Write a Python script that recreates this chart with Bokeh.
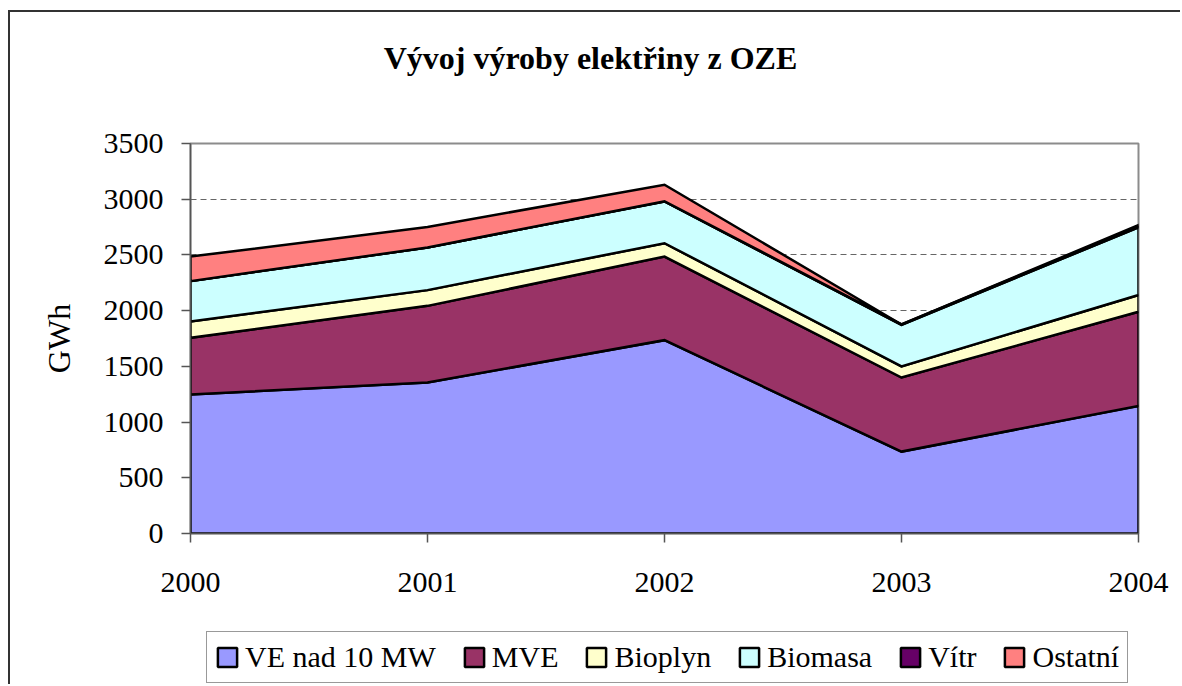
import numpy as np
from bokeh.plotting import figure
from bokeh.layouts import column
from bokeh.models import Range1d, FixedTicker, Legend, LegendItem, ColumnDataSource, Label
from bokeh.embed import file_html
from bokeh.resources import INLINE

# ---- data ----
years = [2000, 2001, 2002, 2003, 2004]
series_names = ["VE nad 10 MW", "MVE", "Bioplyn", "Biomasa", "Vítr", "Ostatní"]
ve_nad_10mw = [1248, 1355, 1735, 735, 1145]
mve = [508, 688, 750, 665, 845]
bioplyn = [147, 141, 120, 100, 150]
biomasa = [362, 383, 375, 372, 608]
vitr = [0, 0, 2, 4, 10]
ostatni = [220, 184, 148, 0, 10]
colors = ["#9999FF", "#993366", "#FFFFCC", "#CCFFFF", "#660066", "#FF8080"]
y_ticks = [0, 500, 1000, 1500, 2000, 2500, 3000, 3500]
title_text = "Vývoj výroby elektřiny z OZE"
y_label = "GWh"

series = [ve_nad_10mw, mve, bioplyn, biomasa, vitr, ostatni]

FONT = "Liberation Serif"
BORDER = "#333333"
W = 1180
LEFT, RIGHT = 190, 42

# stacked layers as polygons
x = np.array(years, dtype=float)
bottom = np.zeros(len(years))
xs, ys = [], []
for s in series:
    top = bottom + np.array(s, dtype=float)
    xs.append(list(x) + list(x[::-1]))
    ys.append(list(top) + list(bottom[::-1]))
    bottom = top
src = ColumnDataSource(dict(xs=xs, ys=ys, color=colors, name=series_names))

left_line = {
    "background-image": f"linear-gradient({BORDER},{BORDER})",
    "background-size": "2px 100%",
    "background-position": "8px 0px",
    "background-repeat": "no-repeat",
}

# ---------- title strip ----------
TH = 100
t = figure(width=W, height=TH, output_backend="svg", toolbar_location=None,
           x_range=Range1d(0, W - LEFT - RIGHT), y_range=Range1d(0, TH),
           x_axis_type=None, y_axis_type=None,
           min_border_left=LEFT, min_border_right=RIGHT, min_border_top=0, min_border_bottom=0)
t.styles = {
    "background-image": f"linear-gradient({BORDER},{BORDER}), linear-gradient({BORDER},{BORDER})",
    "background-size": "2px 100%, 100% 2px",
    "background-position": "8px 10px, 8px 10px",
    "background-repeat": "no-repeat",
}
t.border_fill_alpha = 0
t.background_fill_alpha = 0
t.outline_line_color = None
t.grid.visible = False
t.add_layout(Label(x=400, y=TH - 57, text=title_text, text_font=FONT, text_font_size="32px",
                   text_font_style="bold", text_color="black",
                   text_align="center", text_baseline="middle"))

# ---------- main chart ----------
p = figure(width=W, height=620 - TH, output_backend="svg", toolbar_location=None,
           x_range=Range1d(2000, 2004), y_range=Range1d(0, 3500),
           min_border_left=LEFT, min_border_right=RIGHT, min_border_top=143 - TH, min_border_bottom=87)
p.styles = left_line
p.border_fill_alpha = 0
p.background_fill_color = "white"
p.outline_line_color = "#8c8c8c"
p.outline_line_width = 2

p.xgrid.grid_line_color = None
p.ygrid.ticker = FixedTicker(ticks=y_ticks)
p.ygrid.grid_line_color = "#666666"
p.ygrid.grid_line_dash = "6 4"
p.ygrid.grid_line_width = 1

p.patches(xs="xs", ys="ys", fill_color="color", line_color="black", line_width=2.5,
          line_join="miter", source=src)

for ax in (p.xaxis[0], p.yaxis[0]):
    ax.axis_line_color = "#555555"
    ax.axis_line_width = 1.5
    ax.major_tick_line_color = "#555555"
    ax.major_tick_line_width = 1.5
    ax.major_tick_in = 0
    ax.minor_tick_line_color = None
    ax.major_label_text_font = FONT
    ax.major_label_text_color = "black"
p.xaxis.ticker = FixedTicker(ticks=years)
p.xaxis.major_tick_out = 9
p.xaxis.major_label_text_font_size = "30px"
p.xaxis.major_label_standoff = 30
p.yaxis.ticker = FixedTicker(ticks=y_ticks)
p.yaxis.major_tick_out = 9
p.yaxis.major_label_text_font_size = "30px"
p.yaxis.major_label_standoff = 18
p.yaxis.axis_label = y_label
p.yaxis.axis_label_text_font = FONT
p.yaxis.axis_label_text_font_size = "32px"
p.yaxis.axis_label_text_font_style = "normal"
p.yaxis.axis_label_text_color = "black"
p.yaxis.axis_label_standoff = 24

# ---------- legend strip ----------
q = figure(width=W, height=64, output_backend="svg", toolbar_location=None,
           x_range=Range1d(0, 1), y_range=Range1d(0, 1),
           x_axis_type=None, y_axis_type=None,
           min_border_left=LEFT, min_border_right=RIGHT, min_border_top=0, min_border_bottom=0)
q.styles = left_line
q.border_fill_alpha = 0
q.background_fill_alpha = 0
q.outline_line_color = None
q.grid.visible = False
# same layers (outside this strip's view), used only for legend swatches
lr = q.patches(xs="xs", ys="ys", fill_color="color", line_color="black", line_width=2.5, source=src)

items = [LegendItem(label=name, renderers=[lr], index=i) for i, name in enumerate(series_names)]
legend = Legend(items=items, orientation="horizontal", location=(16, 1),
                label_text_font=FONT, label_text_font_size="30px", label_text_color="black",
                glyph_width=24, glyph_height=24, label_standoff=6, spacing=26, padding=8,
                border_line_color=BORDER, border_line_width=1.5, background_fill_color="white",
                margin=0)
q.add_layout(legend, "center")

layout = column(t, p, q, spacing=0)
open("out.html", "w").write(file_html(layout, INLINE))
